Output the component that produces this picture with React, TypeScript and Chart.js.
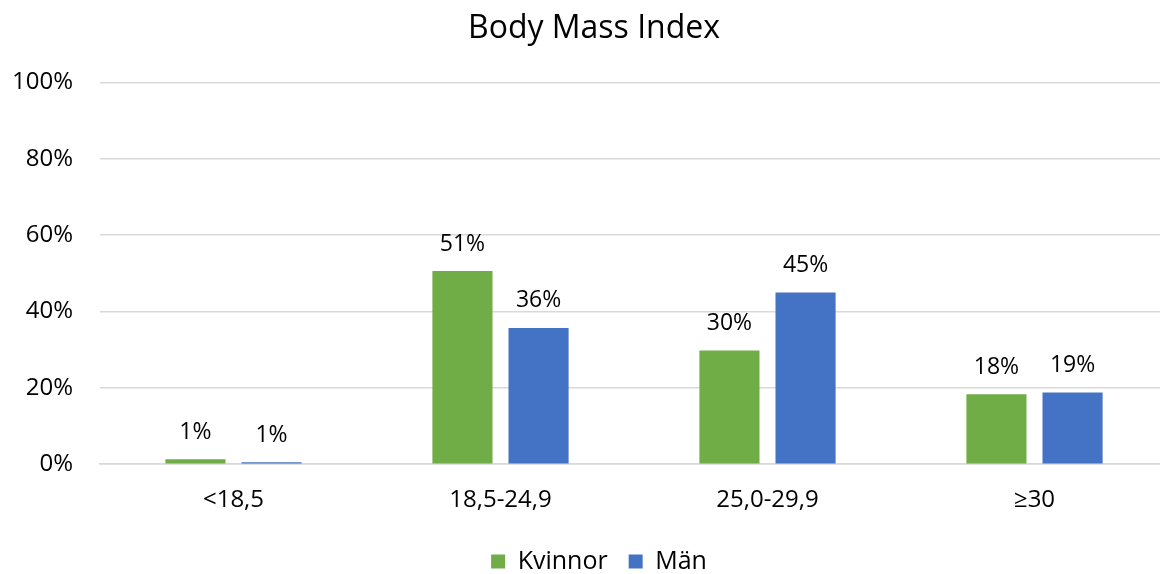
import React, { useEffect, useRef } from "react";
import { Chart, registerables } from "chart.js";

Chart.register(...registerables);

const categories = ["<18,5", "18,5-24,9", "25,0-29,9", "≥30"];
const kvinnor = [1.3, 50.6, 29.8, 18.3];
const man = [0.5, 35.7, 45.0, 18.8];
const kvinnorLabels = ["1%", "51%", "30%", "18%"];
const manLabels = ["1%", "36%", "45%", "19%"];
const yTicks = [0, 20, 40, 60, 80, 100];

const FONT = "'Open Sans', sans-serif";

const labelPlugin = {
  id: "barLabels",
  afterLayout(chart: any) {
    // let the y tick labels extend into the left layout padding
    chart.scales.y.left = 0;
    const lg = chart.legend;
    if (lg) {
      lg.top -= 9;
      lg.bottom -= 9;
      lg.left += 5;
      lg.right += 5;
    }
  },
  afterDatasetsDraw(chart: any) {
    const ctx = chart.ctx;
    const labelSets = [kvinnorLabels, manLabels];
    ctx.save();
    ctx.font = `23px ${FONT}`;
    ctx.fillStyle = "#000000";
    ctx.textAlign = "center";
    ctx.textBaseline = "middle";
    chart.data.datasets.forEach((_: any, di: number) => {
      const meta = chart.getDatasetMeta(di);
      meta.data.forEach((bar: any, i: number) => {
        ctx.fillText(labelSets[di][i], bar.x, bar.y - 27);
      });
    });
    ctx.restore();
  },
};

export default function App() {
  const ref = useRef<HTMLCanvasElement>(null);
  useEffect(() => {
    if (!ref.current) return;
    const chart = new Chart(ref.current, {
      type: "bar",
      data: {
        labels: categories,
        datasets: [
          {
            label: "Kvinnor",
            data: kvinnor,
            backgroundColor: "#70AD47",
            barPercentage: 0.79,
            categoryPercentage: 0.57,
          },
          {
            label: "Män",
            data: man,
            backgroundColor: "#4472C4",
            barPercentage: 0.79,
            categoryPercentage: 0.57,
          },
        ],
      },
      options: {
        responsive: false,
        animation: false,
        layout: { padding: { left: 20, right: 22, top: 0, bottom: -19 } },
        plugins: {
          title: {
            display: true,
            text: "Body Mass Index",
            color: "#000000",
            font: { family: FONT, size: 32, weight: "normal" },
            padding: { top: 10, bottom: 34 },
          },
          legend: {
            position: "bottom",
            labels: {
              color: "#000000",
              font: { family: FONT, size: 25 },
              boxWidth: 14,
              boxHeight: 14,
              padding: 21,
            },
          },
          tooltip: { enabled: false },
        },
        scales: {
          x: {
            grid: { display: false, drawTicks: false },
            border: { display: true, color: "#d9d9d9", width: 1.5 },
            ticks: {
              color: "#000000",
              font: { family: FONT, size: 24 },
              padding: 22,
            },
          },
          y: {
            min: 0,
            max: 100,
            afterFit: (scale: any) => {
              scale.width = 80;
            },
            afterBuildTicks: (scale: any) => {
              scale.ticks = yTicks.map((v) => ({ value: v }));
            },
            grid: { color: "#d9d9d9", lineWidth: 1.5, drawTicks: false },
            border: { display: false },
            ticks: {
              color: "#000000",
              font: { family: FONT, size: 24 },
              padding: 27,
              callback: (v: any) => `${v}%`,
            },
          },
        },
      },
      plugins: [labelPlugin],
    });
    return () => chart.destroy();
  }, []);
  return (
    <div
      style={{
        position: "fixed",
        left: 0,
        top: 0,
        width: 1160,
        height: 574,
        overflow: "hidden",
        background: "#ffffff",
      }}
    >
      <canvas ref={ref} width={1190} height={574} />
    </div>
  );
}
